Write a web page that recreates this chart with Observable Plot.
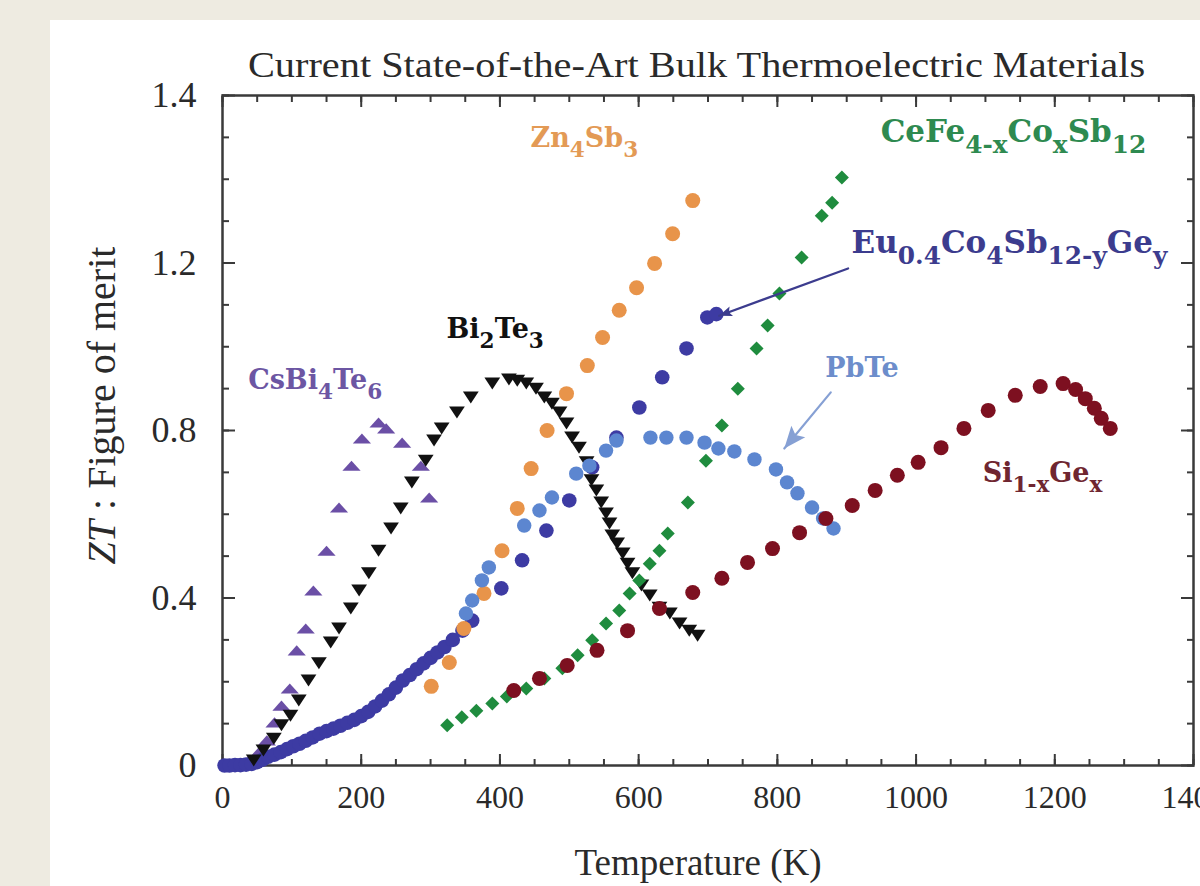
<!DOCTYPE html>
<html><head><meta charset="utf-8">
<script src="https://cdn.jsdelivr.net/npm/d3@7"></script>
<script src="https://cdn.jsdelivr.net/npm/@observablehq/plot@0.6"></script>
<style>
html,body{margin:0;padding:0;width:1200px;height:886px;overflow:hidden;background:#eeebe1;}
#panel{position:absolute;left:50px;top:20px;width:1150px;height:866px;background:#fff;overflow:hidden;}
#title{position:absolute;left:0;top:0;width:1150px;box-sizing:border-box;padding-left:144px;padding-top:27px;margin:0;text-align:center;font-family:"Liberation Serif",serif;font-size:36px;font-weight:normal;line-height:1;color:#2a2a2a;}
#title span{display:inline-block;transform:scaleX(1.12);transform-origin:center;}
#chart{position:absolute;left:0;top:60px;}
</style></head><body>
<div id="panel"><div id="chart"></div><h1 id="title"><span>Current State-of-the-Art Bulk Thermoelectric Materials</span></h1></div>
<script>
// ---- data (temperature in K, ZT) ----
const csbiT  = [38,52,64,75,85,97,107,120,131,150,168,186,201,225,236,259,286,298];
const csbiZT = [0.012,0.031,0.060,0.103,0.143,0.184,0.275,0.327,0.418,0.513,0.616,0.716,0.781,0.819,0.805,0.771,0.716,0.640];

const euT  = [3,10,18,26,34,42,50,58,66,75,84,93,102,111,120,130,140,150,160,170,180,190,200,210,220,230,240,250,260,270,280,290,300,310,320,332,346,360,402,432,467,500,533,568,601,634,669,699,712];
const euZT = [0.000,0.000,0.001,0.001,0.002,0.004,0.008,0.014,0.021,0.026,0.032,0.039,0.046,0.052,0.059,0.067,0.076,0.082,0.088,0.095,0.102,0.109,0.118,0.128,0.141,0.155,0.170,0.186,0.203,0.216,0.230,0.244,0.257,0.270,0.283,0.300,0.322,0.346,0.423,0.490,0.561,0.633,0.712,0.783,0.855,0.927,0.996,1.070,1.078];

const znT  = [301,327,348,377,403,425,445,468,496,526,548,572,597,623,649,678];
const znZT = [0.189,0.246,0.327,0.411,0.513,0.614,0.709,0.800,0.888,0.955,1.022,1.087,1.141,1.199,1.270,1.349];

const biT  = [45,59,74,85,98,110,124,139,156,168,185,197,211,225,243,257,273,293,305,316,338,358,389,413,425,438,452,464,475,486,496,504,514,525,532,539,546,553,558,562,569,577,584,591,604,616,630,645,659,673,685];
const biZT = [0.012,0.036,0.064,0.096,0.119,0.155,0.203,0.244,0.294,0.327,0.375,0.418,0.459,0.513,0.566,0.614,0.676,0.728,0.776,0.805,0.843,0.879,0.912,0.922,0.919,0.912,0.900,0.879,0.864,0.843,0.817,0.783,0.759,0.724,0.681,0.657,0.628,0.602,0.578,0.549,0.530,0.506,0.482,0.459,0.430,0.406,0.377,0.363,0.339,0.322,0.310];

const pbT  = [351,360,374,384,435,457,475,510,529,553,568,617,640,669,695,715,738,767,798,814,829,850,866,881];
const pbZT = [0.363,0.394,0.442,0.473,0.573,0.609,0.640,0.697,0.716,0.752,0.776,0.783,0.783,0.783,0.771,0.757,0.750,0.731,0.707,0.676,0.650,0.616,0.590,0.566];

const ceT  = [324,345,366,389,410,438,464,490,512,533,553,572,587,601,616,630,642,671,697,720,743,770,786,803,835,864,879,893];
const ceZT = [0.096,0.115,0.131,0.148,0.165,0.184,0.208,0.232,0.263,0.299,0.339,0.370,0.411,0.442,0.482,0.513,0.554,0.628,0.728,0.812,0.900,0.996,1.051,1.127,1.213,1.313,1.344,1.404];

const sigeT  = [420,457,497,540,584,630,678,720,757,793,832,870,908,941,973,1003,1036,1069,1104,1143,1179,1212,1230,1244,1257,1267,1280];
const sigeZT = [0.179,0.208,0.239,0.275,0.322,0.375,0.413,0.447,0.485,0.518,0.556,0.590,0.621,0.657,0.693,0.724,0.759,0.805,0.848,0.884,0.905,0.912,0.898,0.876,0.853,0.829,0.805];

// material labels (markup: _{...} = subscript) and their anchor in data units
const labelText = ["Zn_{4}Sb_{3}","CeFe_{4-x}Co_{x}Sb_{12}","Eu_{0.4}Co_{4}Sb_{12-y}Ge_{y}","Bi_{2}Te_{3}","CsBi_{4}Te_{6}","PbTe","Si_{1-x}Ge_{x}"];
const labelT  = [444, 949, 907, 323, 37, 869, 1096];
const labelZT = [1.478, 1.490, 1.225, 1.020, 0.900, 0.927, 0.678];

// annotation arrows (Eu..., PbTe)
const arrowT1  = [902, 877];
const arrowZT1 = [1.187, 0.891];
const arrowT2  = [716, 810];
const arrowZT2 = [1.074, 0.757];

// axes
const xMajor = [0,200,400,600,800,1000,1200,1400];
const xMinor = d3.range(0, 1401, 50);
const yMajor = [0,0.4,0.8,1.2,1.6];
const yMinor = d3.range(0, 17).map(i => i / 10);
const yTickLabels = ["0","0.4","0.8","1.2","1.4"];
const xTitle = "Temperature (K)";
const yTitle = "*ZT* : Figure of merit";

// ---- styling ----
const C = {
  cs: "#6b4fa6", eu: "#3d3ba3", zn: "#e8944a", bi: "#111111",
  pb: "#5c86d0", ce: "#1f8c3e", si: "#7d1020"
};
const labelColor = ["#e39a55","#2e8a50","#3c3c8e","#111111","#6c56a3","#6c8dcb","#6f2630"];
const labelSize  = [27, 31, 31, 27, 27, 27, 27];
const arrowColor = ["#3c3c8e", "#86a0d4"];

const rows = (T, Z) => T.map((t, i) => ({T: t, ZT: Z[i]}));

const triUp = {draw(ctx, size) { const r = Math.sqrt(size / Math.PI); const w = r * 1.3, h = r * 0.72;
  ctx.moveTo(0, -h); ctx.lineTo(w, h); ctx.lineTo(-w, h); ctx.closePath(); }};
const triDown = {draw(ctx, size) { const r = Math.sqrt(size / Math.PI); const w = r * 1.05, h = r * 0.8;
  ctx.moveTo(0, h); ctx.lineTo(w, -h); ctx.lineTo(-w, -h); ctx.closePath(); }};
const diamond = {draw(ctx, size) { const r = Math.sqrt(size / Math.PI);
  ctx.moveTo(0, -r); ctx.lineTo(r, 0); ctx.lineTo(0, r); ctx.lineTo(-r, 0); ctx.closePath(); }};

// filled arrow heads, tip at the anchor, oriented along the arrow (pixel directions)
const PX_PER_K = 971 / 1400, PX_PER_ZT = 670 / 1.6;
function headSymbol(i, L, W) {
  const dx = (arrowT2[i] - arrowT1[i]) * PX_PER_K, dy = -(arrowZT2[i] - arrowZT1[i]) * PX_PER_ZT;
  const n = Math.hypot(dx, dy), ux = dx / n, uy = dy / n, px = -uy, py = ux;
  return {draw(ctx) {
    ctx.moveTo(0, 0);
    ctx.lineTo(-ux * L + px * W, -uy * L + py * W);
    ctx.lineTo(-ux * L * 0.8, -uy * L * 0.8);
    ctx.lineTo(-ux * L - px * W, -uy * L - py * W);
    ctx.closePath();
  }};
}

const axisCol = "#3a3a3a";
const tickOpts = (len) => ({tickSize: -len, fill: "none", stroke: axisCol, strokeWidth: 2});

const plot = Plot.plot({
  width: 1150, height: 806,
  marginTop: 15, marginBottom: 121, marginLeft: 172, marginRight: 7,
  style: {background: "transparent", fontFamily: '"Liberation Serif", serif', fontSize: "32px", color: "#2a2a2a", overflow: "visible"},
  x: {domain: [0, 1400]},
  y: {domain: [0, 1.6]},
  marks: [
    Plot.axisX(xMinor, {anchor: "bottom", ...tickOpts(6)}),
    Plot.axisX(xMajor, {anchor: "bottom", ...tickOpts(11)}),
    Plot.axisX(xMinor, {anchor: "top", ...tickOpts(6)}),
    Plot.axisX(xMajor, {anchor: "top", ...tickOpts(11)}),
    Plot.axisY(yMinor, {anchor: "left", ...tickOpts(7)}),
    Plot.axisY(yMajor, {anchor: "left", ...tickOpts(13)}),
    Plot.axisY(yMinor, {anchor: "right", ...tickOpts(7)}),
    Plot.axisY(yMajor, {anchor: "right", ...tickOpts(13)}),
    Plot.axisX(xMajor, {anchor: "bottom", tickSize: 0, tickPadding: 20, fontSize: 32, label: null, tickFormat: d => String(d)}),
    Plot.axisY(yMajor, {anchor: "left", tickSize: 0, tickPadding: 26, fontSize: 36, label: null, tickFormat: d => yTickLabels[yMajor.indexOf(d)]}),
    Plot.frame({stroke: axisCol, strokeWidth: 2.5}),

    Plot.dot(rows(csbiT, csbiZT), {x: "T", y: "ZT", r: 7, symbol: triUp, fill: C.cs}),
    Plot.dot(rows(euT, euZT), {x: "T", y: "ZT", r: 7.3, fill: C.eu}),
    Plot.dot(rows(znT, znZT), {x: "T", y: "ZT", r: 7.5, fill: C.zn}),
    Plot.dot(rows(biT, biZT), {x: "T", y: "ZT", r: 7.5, symbol: triDown, fill: C.bi}),
    Plot.dot(rows(pbT, pbZT), {x: "T", y: "ZT", r: 7.2, fill: C.pb}),
    Plot.dot(rows(ceT, ceZT), {x: "T", y: "ZT", r: 7, symbol: diamond, fill: C.ce}),
    Plot.dot(rows(sigeT, sigeZT), {x: "T", y: "ZT", r: 7.5, fill: C.si}),

    Plot.arrow([0, 1], {x1: i => arrowT1[i], y1: i => arrowZT1[i], x2: i => arrowT2[i], y2: i => arrowZT2[i],
      stroke: i => arrowColor[i], strokeWidth: 2.2, headLength: 0}),
    Plot.dot([0], {x: i => arrowT2[i], y: i => arrowZT2[i], r: 1, symbol: headSymbol(0, 13, 5), fill: arrowColor[0]}),
    Plot.dot([1], {x: i => arrowT2[i], y: i => arrowZT2[i], r: 1, symbol: headSymbol(1, 22, 9), fill: arrowColor[1]}),

    Plot.text(d3.range(labelText.length), {x: i => labelT[i], y: i => labelZT[i], text: i => labelText[i], fill: i => labelColor[i],
      fontSize: i => labelSize[i], textAnchor: "start", lineAnchor: "bottom", fontFamily: '"DejaVu Serif", serif', fontWeight: "bold"}),
    Plot.text([xTitle], {text: d => d, frameAnchor: "bottom", dx: -10, dy: 109, lineAnchor: "bottom", fontSize: 37}),
    Plot.text([yTitle], {text: d => d, frameAnchor: "left", rotate: -90, dx: -120, dy: -25, lineAnchor: "middle", textAnchor: "middle", fontSize: 40})
  ]
});
document.getElementById("chart").appendChild(plot);

// convert simple markup into tspans (subscripts, italics)
const SVGNS = "http://www.w3.org/2000/svg";
d3.select(plot).selectAll('g[aria-label="text"] text').each(function () {
  const s = this.textContent;
  if (!/[_*]/.test(s)) return;
  const re = /_\{([^}]*)\}|\*([^*]*)\*|([^_*]+)/g;
  const toks = []; let m;
  while ((m = re.exec(s))) {
    if (m[1] !== undefined) toks.push({t: m[1], sub: true});
    else if (m[2] !== undefined) toks.push({t: m[2], it: true});
    else toks.push({t: m[3]});
  }
  this.textContent = "";
  const fs = parseFloat(getComputedStyle(this).fontSize) || 27;
  const shift = Math.round(fs * 0.36);
  let down = false;
  for (const tk of toks) {
    const ts = document.createElementNS(SVGNS, "tspan");
    ts.textContent = tk.t;
    if (tk.sub) {
      ts.setAttribute("font-size", "0.8em");
      if (!down) { ts.setAttribute("dy", shift + "px"); down = true; }
    } else if (down) { ts.setAttribute("dy", (-shift) + "px"); down = false; }
    if (tk.it) ts.setAttribute("font-style", "italic");
    this.appendChild(ts);
  }
});
</script>
</body></html>
